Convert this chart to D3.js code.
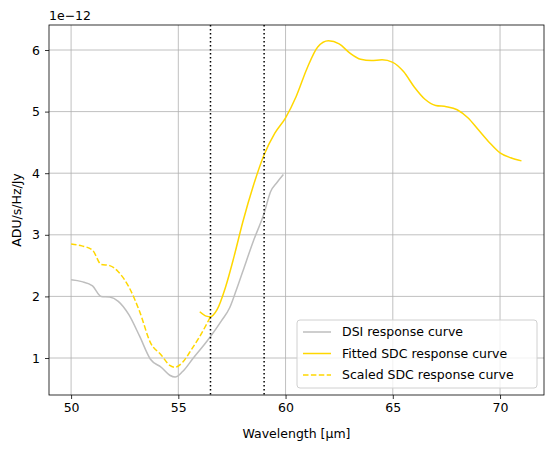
<!DOCTYPE html>
<html><head><meta charset="utf-8">
<script src="https://cdn.jsdelivr.net/npm/d3@7"></script>
<style>body{margin:0;background:#fff}svg{font-family:"DejaVu Sans",sans-serif}</style>
</head><body><svg id="chart" width="554" height="452"></svg>
<script>
// values in units of 1e-12 ADU/s/Hz/Jy
var dsiCurve = [[50,2.27],[50.5,2.24],[51,2.17],[51.4,2.0],[51.8,1.99],[52.2,1.92],[52.7,1.7],[53.2,1.35],[53.7,0.98],[54.2,0.85],[54.6,0.72],[54.85,0.69],[55.2,0.78],[55.7,1.0],[56.1,1.17],[56.5,1.35],[57,1.6],[57.4,1.82],[57.7,2.1],[58,2.4],[58.5,2.9],[59,3.35],[59.3,3.7],[59.6,3.85],[59.9,3.98]];
var scaledSdc = [[50,2.85],[50.5,2.82],[51,2.75],[51.4,2.52],[51.8,2.5],[52.2,2.4],[52.7,2.15],[53.2,1.75],[53.7,1.25],[54.2,1.05],[54.6,0.88],[54.85,0.85],[55.2,0.93],[55.6,1.13],[56,1.35],[56.5,1.67]];
var fittedSdc = [[56,1.75],[56.3,1.68],[56.5,1.67],[56.8,1.78],[57.2,2.15],[57.6,2.65],[58,3.2],[58.5,3.8],[59,4.3],[59.5,4.65],[60,4.9],[60.5,5.25],[61,5.7],[61.5,6.05],[62,6.15],[62.5,6.1],[63,5.95],[63.5,5.85],[64,5.83],[64.5,5.84],[65,5.8],[65.5,5.65],[66,5.4],[66.5,5.2],[67,5.1],[67.5,5.08],[68,5.03],[68.5,4.9],[69,4.7],[69.5,4.5],[70,4.33],[70.5,4.25],[71,4.2]];
var cutLines = [56.5, 59];
var xTicks = [50, 55, 60, 65, 70];
var yTicks = [1, 2, 3, 4, 5, 6];

var svg = d3.select("#chart");
var fs = 12.5;
var m = {l: 49, r: 544, t: 25, b: 395};
var x = d3.scaleLinear().domain([48.97, 72.05]).range([m.l, m.r]);
var y = d3.scaleLinear().domain([1 - 37 / 61.6, 6 + 25 / 61.6]).range([m.b, m.t]);

// grid
svg.append("g").selectAll("line").data(xTicks).join("line")
  .attr("x1", x).attr("x2", x).attr("y1", m.t).attr("y2", m.b)
  .attr("stroke", "#b0b0b0").attr("stroke-width", 0.8);
svg.append("g").selectAll("line").data(yTicks).join("line")
  .attr("y1", y).attr("y2", y).attr("x1", m.l).attr("x2", m.r)
  .attr("stroke", "#b0b0b0").attr("stroke-width", 0.8);

var line = d3.line().x(function (d) { return x(d[0]); }).y(function (d) { return y(d[1]); }).curve(d3.curveMonotoneX);
svg.append("path").attr("d", line(dsiCurve)).attr("fill", "none").attr("stroke", "#bebebe").attr("stroke-width", 1.5);
svg.append("path").attr("d", line(fittedSdc)).attr("fill", "none").attr("stroke", "#ffd700").attr("stroke-width", 1.5);
svg.append("path").attr("d", line(scaledSdc)).attr("fill", "none").attr("stroke", "#ffd700").attr("stroke-width", 1.5).attr("stroke-dasharray", "5.5,2.4");

svg.append("g").selectAll("line").data(cutLines).join("line")
  .attr("x1", x).attr("x2", x).attr("y1", m.t).attr("y2", m.b)
  .attr("stroke", "#000").attr("stroke-width", 1.5).attr("stroke-dasharray", "1.5,2.5");

// axes
var xa = svg.append("g").attr("transform", "translate(0," + m.b + ")")
  .call(d3.axisBottom(x).tickValues(xTicks).tickFormat(d3.format("d")).tickSize(4).tickPadding(4));
var ya = svg.append("g").attr("transform", "translate(" + m.l + ",0)")
  .call(d3.axisLeft(y).tickValues(yTicks).tickFormat(d3.format("d")).tickSize(4).tickPadding(5));
[xa, ya].forEach(function (a) {
  a.select(".domain").remove();
  a.selectAll("text").attr("font-size", fs).attr("fill", "#000").attr("font-family", "DejaVu Sans");
  a.selectAll("line").attr("stroke", "#000").attr("stroke-width", 0.8);
});
svg.append("rect").attr("x", m.l).attr("y", m.t).attr("width", m.r - m.l).attr("height", m.b - m.t)
  .attr("fill", "none").attr("stroke", "#000").attr("stroke-width", 0.8);

svg.append("text").attr("x", m.l).attr("y", m.t - 5).attr("font-size", fs).text("1e\u221212");
svg.append("text").attr("x", (m.l + m.r) / 2).attr("y", 438).attr("text-anchor", "middle").attr("font-size", fs).text("Wavelength [\u03bcm]");
svg.append("text").attr("transform", "translate(21," + (m.t + m.b) / 2 + ") rotate(-90)").attr("text-anchor", "middle").attr("font-size", fs).text("ADU/s/Hz/Jy");

// legend
var items = [["DSI response curve", "#bebebe", null], ["Fitted SDC response curve", "#ffd700", null], ["Scaled SDC response curve", "#ffd700", "5.5,2.4"]];
var lg = svg.append("g").attr("transform", "translate(297,320)");
lg.append("rect").attr("width", 240).attr("height", 68).attr("rx", 3).attr("fill", "#fff").attr("fill-opacity", 0.8).attr("stroke", "#d0d0d0");
items.forEach(function (it, i) {
  var yy = 12 + i * 21.5;
  lg.append("line").attr("x1", 6).attr("x2", 34).attr("y1", yy).attr("y2", yy).attr("stroke", it[1]).attr("stroke-width", 1.5).attr("stroke-dasharray", it[2]);
  lg.append("text").attr("x", 45).attr("y", yy + 4).attr("font-size", fs).text(it[0]);
});
</script></body></html>
